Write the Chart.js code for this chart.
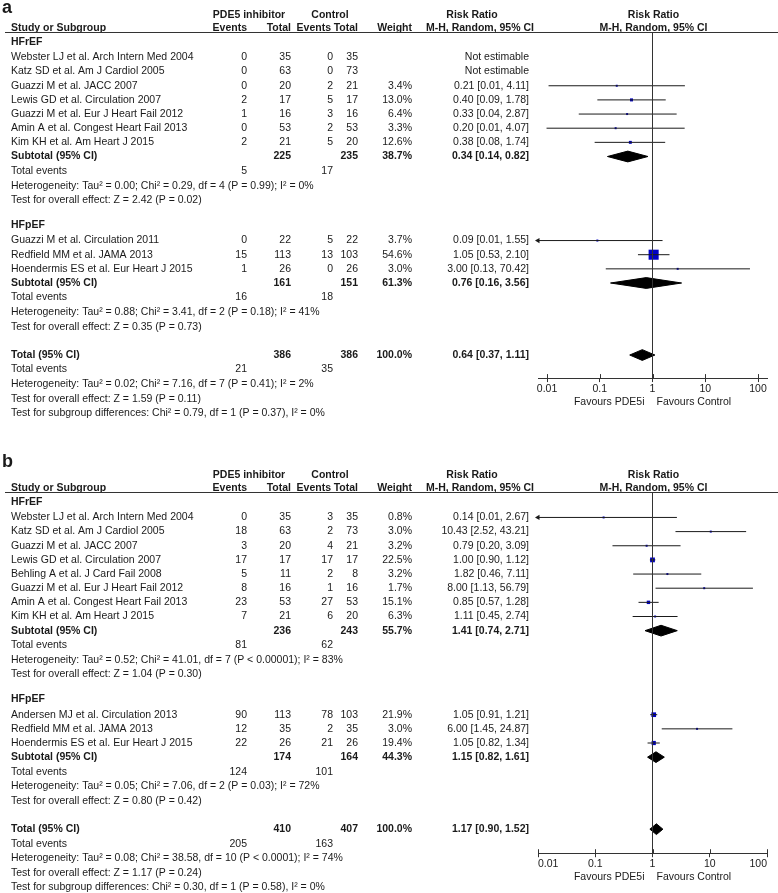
<!DOCTYPE html>
<html>
<head>
<meta charset="utf-8">
<script src="https://cdn.jsdelivr.net/npm/chart.js@4.4.1/dist/chart.umd.min.js"></script>
<style>
  html, body { margin: 0; padding: 0; background: #fff; }
  #wrap { position: relative; width: 778px; height: 893px; }
  canvas { position: absolute; left: 0; }
</style>
</head>
<body>
<div id="wrap">
  <canvas id="panelA" width="778" height="440" style="top:0"></canvas>
  <canvas id="panelB" width="778" height="453" style="top:440px"></canvas>
</div>
<script>
// axis ticks shared by both panels
const tickValues = [0.01, 0.1, 1, 10, 100];
const tickLabels = ['0.01', '0.1', '1', '10', '100'];

// ---- panel a ----
const aGroups = ['HFrEF', 'HFpEF'];
const aStudies = [
    'Webster LJ et al. Arch Intern Med 2004',
    'Katz SD et al. Am J Cardiol 2005',
    'Guazzi M et al. JACC 2007',
    'Lewis GD et al. Circulation 2007',
    'Guazzi M et al. Eur J Heart Fail 2012',
    'Amin A et al. Congest Heart Fail 2013',
    'Kim KH et al. Am Heart J 2015',
    'Guazzi M et al. Circulation 2011',
    'Redfield MM et al. JAMA 2013',
    'Hoendermis ES et al. Eur Heart J 2015'
];
const aStudyGroup = [0, 0, 0, 0, 0, 0, 0, 1, 1, 1];
const aPdeEvents = [0, 0, 0, 2, 1, 0, 2, 0, 15, 1];
const aPdeTotal = [35, 63, 20, 17, 16, 53, 21, 22, 113, 26];
const aCtlEvents = [0, 0, 2, 5, 3, 2, 5, 5, 13, 0];
const aCtlTotal = [35, 73, 21, 17, 16, 53, 20, 22, 103, 26];
const aWeight = [null, null, 3.4, 13.0, 6.4, 3.3, 12.6, 3.7, 54.6, 3.0];
const aRR = [null, null, 0.21, 0.40, 0.33, 0.20, 0.38, 0.09, 1.05, 3.00];
const aLow = [null, null, 0.0107, 0.09, 0.04, 0.0098, 0.08, 0.0052, 0.53, 0.13];
const aHigh = [null, null, 4.11, 1.78, 2.87, 4.07, 1.74, 1.55, 2.10, 70.42];

const aSubPdeTotal = [225, 161];
const aSubCtlTotal = [235, 151];
const aSubPdeEvents = [5, 16];
const aSubCtlEvents = [17, 18];
const aSubWeight = [38.7, 61.3];
const aSubRR = [0.34, 0.76];
const aSubLow = [0.14, 0.16];
const aSubHigh = [0.82, 3.56];
const aSubHet = [
    'Heterogeneity: Tau² = 0.00; Chi² = 0.29, df = 4 (P = 0.99); I² = 0%',
    'Heterogeneity: Tau² = 0.88; Chi² = 3.41, df = 2 (P = 0.18); I² = 41%'
];
const aSubTest = [
    'Test for overall effect: Z = 2.42 (P = 0.02)',
    'Test for overall effect: Z = 0.35 (P = 0.73)'
];

const aTotalCounts = [386, 386];
const aTotalEvents = [21, 35];
const aTotalWeight = 100.0;
const aTotalEffect = [0.64, 0.37, 1.11];
const aTotalNotes = [
    'Heterogeneity: Tau² = 0.02; Chi² = 7.16, df = 7 (P = 0.41); I² = 2%',
    'Test for overall effect: Z = 1.59 (P = 0.11)',
    'Test for subgroup differences: Chi² = 0.79, df = 1 (P = 0.37), I² = 0%'
];

// ---- panel b ----
const bGroups = ['HFrEF', 'HFpEF'];
const bStudies = [
    'Webster LJ et al. Arch Intern Med 2004',
    'Katz SD et al. Am J Cardiol 2005',
    'Guazzi M et al. JACC 2007',
    'Lewis GD et al. Circulation 2007',
    'Behling A et al. J Card Fail 2008',
    'Guazzi M et al. Eur J Heart Fail 2012',
    'Amin A et al. Congest Heart Fail 2013',
    'Kim KH et al. Am Heart J 2015',
    'Andersen MJ et al. Circulation 2013',
    'Redfield MM et al. JAMA 2013',
    'Hoendermis ES et al. Eur Heart J 2015'
];
const bStudyGroup = [0, 0, 0, 0, 0, 0, 0, 0, 1, 1, 1];
const bPdeEvents = [0, 18, 3, 17, 5, 8, 23, 7, 90, 12, 22];
const bPdeTotal = [35, 63, 20, 17, 11, 16, 53, 21, 113, 35, 26];
const bCtlEvents = [3, 2, 4, 17, 2, 1, 27, 6, 78, 2, 21];
const bCtlTotal = [35, 73, 21, 17, 8, 16, 53, 20, 103, 35, 26];
const bWeight = [0.8, 3.0, 3.2, 22.5, 3.2, 1.7, 15.1, 6.3, 21.9, 3.0, 19.4];
const bRR = [0.14, 10.43, 0.79, 1.00, 1.82, 8.00, 0.85, 1.11, 1.05, 6.00, 1.05];
const bLow = [0.0073, 2.52, 0.20, 0.90, 0.46, 1.13, 0.57, 0.45, 0.91, 1.45, 0.82];
const bHigh = [2.67, 43.21, 3.09, 1.12, 7.11, 56.79, 1.28, 2.74, 1.21, 24.87, 1.34];

const bSubPdeTotal = [236, 174];
const bSubCtlTotal = [243, 164];
const bSubPdeEvents = [81, 124];
const bSubCtlEvents = [62, 101];
const bSubWeight = [55.7, 44.3];
const bSubRR = [1.41, 1.15];
const bSubLow = [0.74, 0.82];
const bSubHigh = [2.71, 1.61];
const bSubHet = [
    'Heterogeneity: Tau² = 0.52; Chi² = 41.01, df = 7 (P < 0.00001); I² = 83%',
    'Heterogeneity: Tau² = 0.05; Chi² = 7.06, df = 2 (P = 0.03); I² = 72%'
];
const bSubTest = [
    'Test for overall effect: Z = 1.04 (P = 0.30)',
    'Test for overall effect: Z = 0.80 (P = 0.42)'
];

const bTotalCounts = [410, 407];
const bTotalEvents = [205, 163];
const bTotalWeight = 100.0;
const bTotalEffect = [1.17, 0.90, 1.52];
const bTotalNotes = [
    'Heterogeneity: Tau² = 0.08; Chi² = 38.58, df = 10 (P < 0.0001); I² = 74%',
    'Test for overall effect: Z = 1.17 (P = 0.24)',
    'Test for subgroup differences: Chi² = 0.30, df = 1 (P = 0.58), I² = 0%'
];

// layout
const FONT = '"Liberation Sans", Arial, Helvetica, sans-serif';
const FS = 10.5;
const INK = '#1a1a1a';
const BOX_BLUE = '#0000c4';
const ROW_STEP = 14.15;
const DIAMOND_H = 0.38;
const COL = { name: 11, e1: 247, t1: 291, e2: 333, t2: 358, w: 412, ci: 529 };

Chart.defaults.font.family = FONT;
Chart.defaults.font.size = FS;
Chart.defaults.color = INK;

function fmtCI(rr, lo, hi) {
    return rr.toFixed(2) + ' [' + lo.toFixed(2) + ', ' + hi.toFixed(2) + ']';
}
function pct(w) {
    return w == null ? '' : w.toFixed(1) + '%';
}
function boxSide(w) {
    return Math.max(2, 0.35 * Math.pow(w, 0.84));
}
function txt(text, x, align, bold) {
    return { text: String(text), x: x, align: align || 'right', bold: !!bold };
}

function buildPanel(p) {
    const rows = [];
    const marks = [];
    const summaries = [];

    rows.push({ r: 0, cells: [
        txt('PDE5 inhibitor', 249, 'center', true),
        txt('Control', 330, 'center', true),
        txt('Risk Ratio', 472, 'center', true),
        txt('Risk Ratio', 'plot', 'center', true)
    ] });
    rows.push({ r: 0.95, cells: [
        txt('Study or Subgroup', COL.name, 'left', true),
        txt('Events', COL.e1, 'right', true),
        txt('Total', COL.t1, 'right', true),
        txt('Events', COL.e2 - 2, 'right', true),
        txt('Total', COL.t2, 'right', true),
        txt('Weight', COL.w, 'right', true),
        txt('M-H, Random, 95% CI', 480, 'center', true),
        txt('M-H, Random, 95% CI', 'plot', 'center', true)
    ] });

    let r = 1.9;
    p.groups.forEach((g, gi) => {
        if (gi > 0) r += 1.75;
        rows.push({ r, cells: [txt(g, COL.name, 'left', true)] });
        r += 1.1;
        p.studies.forEach((name, i) => {
            if (p.studyGroup[i] !== gi) return;
            const est = p.rr[i] != null;
            rows.push({ r, cells: [
                txt(name, COL.name, 'left'),
                txt(p.pdeEvents[i], COL.e1),
                txt(p.pdeTotal[i], COL.t1),
                txt(p.ctlEvents[i], COL.e2),
                txt(p.ctlTotal[i], COL.t2),
                txt(pct(p.weight[i]), COL.w),
                txt(est ? fmtCI(p.rr[i], p.low[i], p.high[i]) : 'Not estimable', COL.ci)
            ] });
            if (est) marks.push({ r, rr: p.rr[i], lo: p.low[i], hi: p.high[i], w: p.weight[i] });
            r += 1;
        });
        rows.push({ r, cells: [
            txt('Subtotal (95% CI)', COL.name, 'left', true),
            txt(p.subPdeTotal[gi], COL.t1, 'right', true),
            txt(p.subCtlTotal[gi], COL.t2, 'right', true),
            txt(pct(p.subWeight[gi]), COL.w, 'right', true),
            txt(fmtCI(p.subRR[gi], p.subLow[gi], p.subHigh[gi]), COL.ci, 'right', true)
        ] });
        summaries.push({ r, rr: p.subRR[gi], lo: p.subLow[gi], hi: p.subHigh[gi] });
        r += 1.03;
        rows.push({ r, cells: [
            txt('Total events', COL.name, 'left'),
            txt(p.subPdeEvents[gi], COL.e1),
            txt(p.subCtlEvents[gi], COL.e2)
        ] });
        r += 1.03;
        rows.push({ r, cells: [txt(p.subHet[gi], COL.name, 'left')] });
        r += 1.03;
        rows.push({ r, cells: [txt(p.subTest[gi], COL.name, 'left')] });
    });

    r += 2;
    const totalR = r;
    rows.push({ r, cells: [
        txt('Total (95% CI)', COL.name, 'left', true),
        txt(p.totalCounts[0], COL.t1, 'right', true),
        txt(p.totalCounts[1], COL.t2, 'right', true),
        txt(pct(p.totalWeight), COL.w, 'right', true),
        txt(fmtCI(p.totalEffect[0], p.totalEffect[1], p.totalEffect[2]), COL.ci, 'right', true)
    ] });
    summaries.push({ r, rr: p.totalEffect[0], lo: p.totalEffect[1], hi: p.totalEffect[2] });
    r += 1.03;
    rows.push({ r, cells: [
        txt('Total events', COL.name, 'left'),
        txt(p.totalEvents[0], COL.e1),
        txt(p.totalEvents[1], COL.e2)
    ] });
    p.totalNotes.forEach(note => {
        r += 1.03;
        rows.push({ r, cells: [txt(note, COL.name, 'left')] });
    });

    const axisR = totalR + p.axisGap;
    const lineR = 1.22;
    const canvas = document.getElementById(p.canvas);
    const axisPx = p.top + (axisR + p.top / ROW_STEP - p.top / ROW_STEP) * ROW_STEP;
    const axisBox = 36;

    const datasets = [];
    // line of no effect
    datasets.push({
        data: [{ x: 1, y: lineR }, { x: 1, y: axisR }],
        showLine: true, borderColor: '#333', borderWidth: 1, pointRadius: 0
    });
    // confidence intervals
    marks.forEach(m => {
        datasets.push({
            data: [{ x: Math.max(m.lo, p.xMin), y: m.r }, { x: Math.min(m.hi, p.xMax), y: m.r }],
            showLine: true, borderColor: INK, borderWidth: 1, pointRadius: 0
        });
    });
    // arrows where an interval runs off the scale
    datasets.push({
        data: marks.filter(m => m.lo < p.xMin).map(m => ({ x: p.xMin, y: m.r })),
        pointStyle: 'triangle', pointRotation: -90, pointRadius: 3,
        pointBackgroundColor: INK, pointBorderWidth: 0
    });
    // study estimates
    datasets.push({
        data: marks.map(m => ({ x: m.rr, y: m.r })),
        pointStyle: 'rect',
        pointRadius: marks.map(m => boxSide(m.w) / Math.SQRT2),
        pointBackgroundColor: BOX_BLUE, pointBorderWidth: 0
    });
    // pooled estimates
    summaries.forEach(s => {
        datasets.push({
            data: [
                { x: s.lo, y: s.r }, { x: s.rr, y: s.r - DIAMOND_H },
                { x: s.hi, y: s.r }, { x: s.rr, y: s.r + DIAMOND_H },
                { x: s.lo, y: s.r }
            ],
            showLine: true, fill: 'shape', backgroundColor: '#000',
            borderColor: '#000', borderWidth: 1, pointRadius: 0
        });
    });
    datasets.forEach(ds => { ds.clip = false; ds.tension = 0; });

    const tablePlugin = {
        id: 'forestTable',
        afterDraw(chart) {
            const { ctx, scales: { x, y } } = chart;
            const x1 = x.getPixelForValue(1);
            ctx.save();
            ctx.fillStyle = INK;
            ctx.textBaseline = 'middle';
            rows.forEach(row => {
                const py = y.getPixelForValue(row.r);
                row.cells.forEach(c => {
                    ctx.font = (c.bold ? 'bold ' : '') + FS + 'px ' + FONT;
                    ctx.textAlign = c.align;
                    ctx.fillText(c.text, c.x === 'plot' ? x1 + 1 : c.x, py);
                });
            });
            // panel letter
            ctx.font = 'bold 18px ' + FONT;
            ctx.textAlign = 'left';
            ctx.fillText(p.label, 2, p.labelY);
            // header rule
            const ly = Math.round(y.getPixelForValue(lineR)) + 0.5;
            ctx.strokeStyle = '#333';
            ctx.lineWidth = 1.2;
            ctx.beginPath();
            ctx.moveTo(5, ly);
            ctx.lineTo(chart.width, ly);
            ctx.stroke();
            // upper halves of the tick marks
            const ay = y.getPixelForValue(axisR);
            ctx.lineWidth = 1;
            ctx.beginPath();
            x.ticks.forEach(t => {
                const tx = Math.round(x.getPixelForValue(t.value)) + 0.5;
                ctx.moveTo(tx, ay - 4);
                ctx.lineTo(tx, ay);
            });
            ctx.stroke();
            // favours labels
            ctx.font = FS + 'px ' + FONT;
            ctx.textAlign = 'right';
            ctx.fillText('Favours PDE5i', x1 - 8, ay + 24);
            ctx.textAlign = 'left';
            ctx.fillText('Favours Control', x1 + 4, ay + 24);
            ctx.restore();
        }
    };

    return new Chart(canvas, {
        type: 'scatter',
        data: { datasets },
        options: {
            responsive: false,
            animation: false,
            devicePixelRatio: 1,
            events: [],
            layout: {
                autoPadding: false,
                padding: { left: 538, right: 11, top: 0, bottom: canvas.height - axisPx - axisBox }
            },
            plugins: { legend: { display: false }, tooltip: { enabled: false } },
            scales: {
                x: {
                    type: 'logarithmic',
                    position: 'bottom',
                    min: p.xMin,
                    max: p.xMax,
                    bounds: 'data',
                    afterBuildTicks: scale => { scale.ticks = tickValues.map(v => ({ value: v })); },
                    afterFit: scale => { scale.height = axisBox; },
                    ticks: {
                        autoSkip: false,
                        maxRotation: 0,
                        align: p.tickAlign,
                        padding: 1,
                        color: INK,
                        font: { size: FS },
                        callback: value => tickLabels[tickValues.indexOf(value)]
                    },
                    grid: { drawOnChartArea: false, drawTicks: true, tickLength: 4, color: '#333' },
                    border: { display: true, color: '#333', width: 1 }
                },
                y: {
                    type: 'linear',
                    display: false,
                    reverse: true,
                    min: -p.top / ROW_STEP,
                    max: axisR
                }
            }
        },
        plugins: [tablePlugin]
    });
}

buildPanel({
    canvas: 'panelA', label: 'a', labelY: 8, top: 15, axisGap: 1.63,
    xMin: 0.00675, xMax: 148, tickAlign: 'center',
    groups: aGroups, studies: aStudies, studyGroup: aStudyGroup,
    pdeEvents: aPdeEvents, pdeTotal: aPdeTotal, ctlEvents: aCtlEvents, ctlTotal: aCtlTotal,
    weight: aWeight, rr: aRR, low: aLow, high: aHigh,
    subPdeTotal: aSubPdeTotal, subCtlTotal: aSubCtlTotal,
    subPdeEvents: aSubPdeEvents, subCtlEvents: aSubCtlEvents,
    subWeight: aSubWeight, subRR: aSubRR, subLow: aSubLow, subHigh: aSubHigh,
    subHet: aSubHet, subTest: aSubTest,
    totalCounts: aTotalCounts, totalEvents: aTotalEvents, totalWeight: aTotalWeight,
    totalEffect: aTotalEffect, totalNotes: aTotalNotes
});

buildPanel({
    canvas: 'panelB', label: 'b', labelY: 22, top: 35, axisGap: 1.7,
    xMin: 0.01, xMax: 100, tickAlign: 'inner',
    groups: bGroups, studies: bStudies, studyGroup: bStudyGroup,
    pdeEvents: bPdeEvents, pdeTotal: bPdeTotal, ctlEvents: bCtlEvents, ctlTotal: bCtlTotal,
    weight: bWeight, rr: bRR, low: bLow, high: bHigh,
    subPdeTotal: bSubPdeTotal, subCtlTotal: bSubCtlTotal,
    subPdeEvents: bSubPdeEvents, subCtlEvents: bSubCtlEvents,
    subWeight: bSubWeight, subRR: bSubRR, subLow: bSubLow, subHigh: bSubHigh,
    subHet: bSubHet, subTest: bSubTest,
    totalCounts: bTotalCounts, totalEvents: bTotalEvents, totalWeight: bTotalWeight,
    totalEffect: bTotalEffect, totalNotes: bTotalNotes
});
</script>
</body>
</html>
